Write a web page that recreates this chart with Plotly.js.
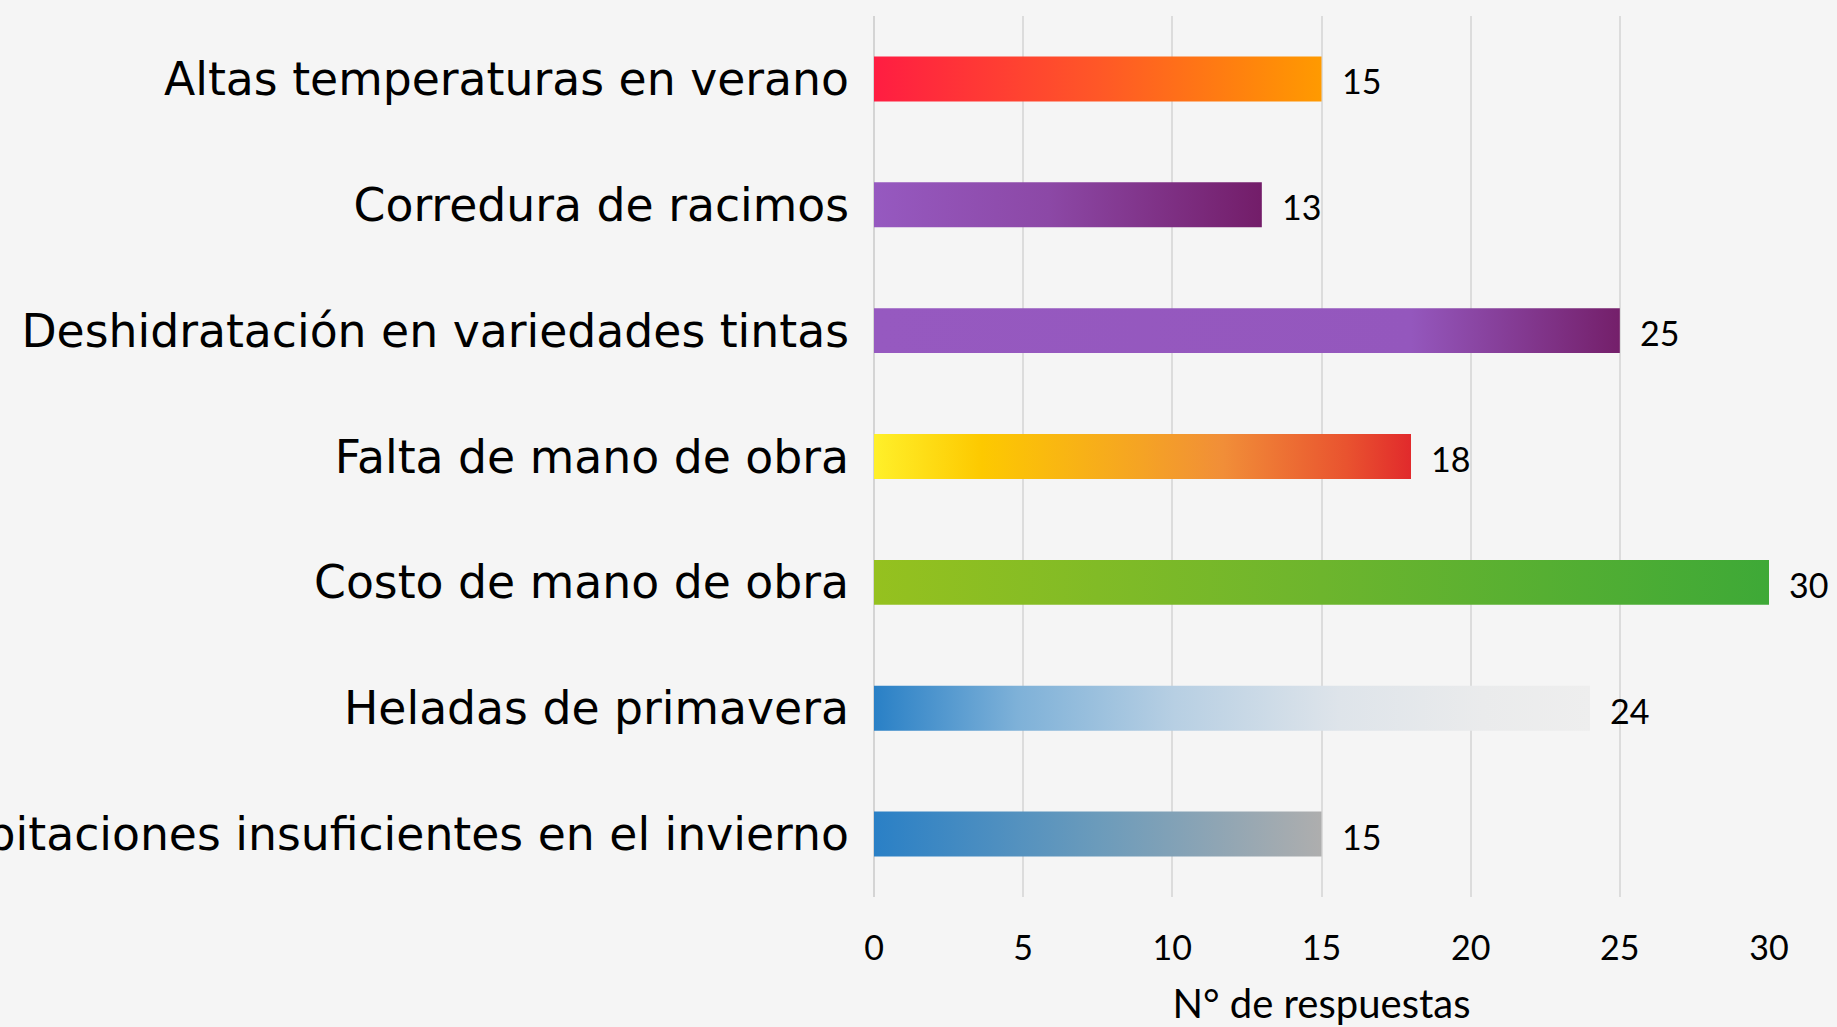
<!DOCTYPE html>
<html>
<head>
<meta charset="utf-8">
<script src="https://cdn.plot.ly/plotly-3.0.1.min.js"></script>
<style>
  html, body { margin: 0; padding: 0; background: #f5f5f5; overflow: hidden; }
  #chart { width: 1837px; height: 1027px; }
</style>
</head>
<body>
<div id="chart"></div>
<script>
// ---- Data ----
const categories = [
  "Altas temperaturas en verano",
  "Corredura de racimos",
  "Deshidratación en variedades tintas",
  "Falta de mano de obra",
  "Costo de mano de obra",
  "Heladas de primavera",
  "Precipitaciones insuficientes en el invierno"
];
const values = [15, 13, 25, 18, 30, 24, 15];
const xTickValues = [0, 5, 10, 15, 20, 25, 30];
const xAxisTitle = "N° de respuestas";

// ---- Styles (gradient stops per bar, left to right) ----
const gradients = [
  [[0, "#ff1d42"], [0.5, "#ff5727"], [1, "#ff9a00"]],
  [[0, "#9659c0"], [0.45, "#8c48a6"], [1, "#731d69"]],
  [[0, "#9659c0"], [0.72, "#9457bd"], [1, "#741f6a"]],
  [[0, "#fff02a"], [0.2, "#fdc900"], [0.5, "#f5a324"], [0.65, "#f18e38"], [0.88, "#e9532f"], [1, "#e12a2c"]],
  [[0, "#95c11f"], [0.5, "#6db52d"], [1, "#3ea937"]],
  [[0, "#2980c6"], [0.2, "#7eb1d8"], [0.42, "#b7cfe3"], [0.65, "#dee4ea"], [0.85, "#eaebec"], [1, "#eeeeee"]],
  [[0, "#2a80c6"], [0.5, "#6b9bbb"], [1, "#aeaeae"]]
];
const baseColors = gradients.map(g => g[Math.floor(g.length / 2)][1]);

const labelFont = "DejaVu Sans, sans-serif";
const numFont = "Lato, 'Open Sans', sans-serif";

const trace = {
  type: "bar",
  orientation: "h",
  y: categories,
  x: values,
  marker: { color: baseColors, line: { width: 0 } },
  hoverinfo: "none",
  cliponaxis: false
};

const annotations = categories.map((c, i) => ({
  x: values[i],
  y: c,
  xref: "x",
  yref: "y",
  text: String(values[i]),
  showarrow: false,
  xanchor: "left",
  yanchor: "middle",
  xshift: 18,
  yshift: -2,
  font: { family: numFont, size: 34, color: "#000000" }
}));

const layout = {
  width: 1837,
  height: 1027,
  paper_bgcolor: "#f5f5f5",
  plot_bgcolor: "#f5f5f5",
  margin: { l: 874, r: 68, t: 15.5, b: 129.5, pad: 0 },
  bargap: 0.643,
  showlegend: false,
  xaxis: {
    range: [0, 30],
    tickvals: xTickValues,
    ticktext: xTickValues.map(String),
    showgrid: true,
    gridcolor: "#dcdcdc",
    gridwidth: 2,
    zeroline: true,
    zerolinecolor: "#d4d4d4",
    zerolinewidth: 2,
    showline: false,
    ticks: "",
    ticklabelstandoff: 28,
    tickfont: { family: numFont, size: 34, color: "#000000" },
    title: { text: xAxisTitle, font: { family: numFont, size: 40, color: "#000000" }, standoff: 25 },
    automargin: false,
    fixedrange: true
  },
  yaxis: {
    type: "category",
    autorange: "reversed",
    showgrid: false,
    zeroline: false,
    showline: false,
    ticks: "",
    ticklabelstandoff: 24,
    tickfont: { family: labelFont, size: 45.7, color: "#000000" },
    automargin: false,
    fixedrange: true
  },
  annotations: annotations
};

Plotly.newPlot("chart", [trace], layout, { displayModeBar: false, staticPlot: true }).then(gd => {
  const svg = gd.querySelector(".main-svg");
  let defs = svg.querySelector("defs");
  const NS = "http://www.w3.org/2000/svg";
  if (!defs) { defs = document.createElementNS(NS, "defs"); svg.insertBefore(defs, svg.firstChild); }
  gradients.forEach((stops, i) => {
    const lg = document.createElementNS(NS, "linearGradient");
    lg.setAttribute("id", "barGrad" + i);
    lg.setAttribute("x1", "0"); lg.setAttribute("y1", "0");
    lg.setAttribute("x2", "1"); lg.setAttribute("y2", "0");
    stops.forEach(([o, c]) => {
      const s = document.createElementNS(NS, "stop");
      s.setAttribute("offset", o);
      s.setAttribute("stop-color", c);
      lg.appendChild(s);
    });
    defs.appendChild(lg);
  });
  const paths = gd.querySelectorAll(".barlayer .point path");
  paths.forEach((p, i) => { p.style.fill = "url(#barGrad" + i + ")"; });
});
</script>
</body>
</html>
